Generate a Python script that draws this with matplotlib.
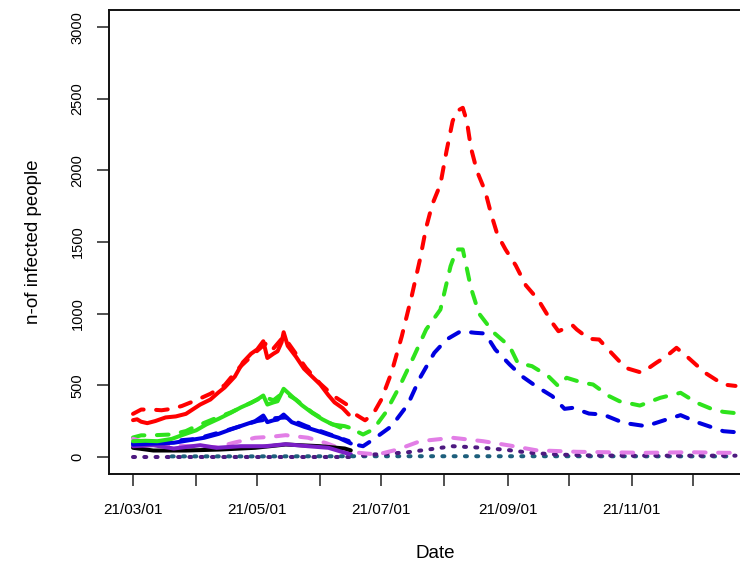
import numpy as np
import matplotlib
matplotlib.use("Agg")
import matplotlib.pyplot as plt
import matplotlib.dates as mdates

plt.rcParams['font.family'] = ['Liberation Sans', 'DejaVu Sans']

# ---- data ----
# first period, solid lines
red_p1_dates = ['03-01', '03-03', '03-05', '03-08', '03-12', '03-17', '03-22', '03-27', '04-03', '04-08',
                '04-12', '04-15', '04-20', '04-24', '04-28', '05-01', '05-04', '05-06', '05-09', '05-11',
                '05-13', '05-14', '05-16', '05-20', '05-24', '05-28', '06-01', '06-05', '06-08', '06-12', '06-15']
red_p1 = [256, 262, 245, 235, 250, 275, 282, 300, 365, 400,
          450, 484, 560, 660, 720, 750, 807, 690, 720, 737,
          800, 870, 775, 700, 615, 560, 505, 430, 380, 340, 295]

green_p1_dates = ['03-01', '03-07', '03-13', '03-20', '03-26', '04-01', '04-06', '04-12', '04-18', '04-23',
                  '04-28', '05-01', '05-04', '05-06', '05-09', '05-11', '05-14', '05-18', '05-23', '05-28',
                  '06-02', '06-07', '06-13', '06-15']
green_p1 = [109, 112, 109, 125, 156, 185, 226, 265, 307, 345,
            377, 400, 428, 365, 380, 388, 475, 423, 360, 307,
            262, 226, 214, 205]

blue_p1_dates = ['03-01', '03-10', '03-21', '04-05', '04-12', '04-18', '04-25', '04-30', '05-04', '05-06',
                 '05-09', '05-11', '05-14', '05-18', '05-24', '05-31', '06-05', '06-10', '06-16']
blue_p1 = [86, 92, 98, 133, 160, 191, 225, 249, 288, 242,
           255, 260, 295, 242, 210, 179, 155, 133, 93]

purple_p1_dates = ['03-01', '03-11', '03-21', '04-03', '04-11', '04-23', '05-05', '05-15', '05-26', '06-05', '06-16']
purple_p1 = [74, 81, 58, 81, 63, 74, 74, 88, 74, 63, 16]

black_p1_dates = ['03-01', '03-11', '03-27', '04-13', '04-30', '05-15', '06-01', '06-13', '06-16']
black_p1 = [63, 44, 44, 51, 63, 86, 74, 58, 45]

# first period, dashed lines
red_d1_dates = ['03-01', '03-05', '03-10', '03-15', '03-20', '03-25', '04-01', '04-08', '04-15', '04-22',
                '05-01', '05-05', '05-08', '05-14', '05-18', '05-25', '06-01', '06-08', '06-14']
red_d1 = [300, 330, 330, 325, 335, 355, 395, 440, 500, 620,
          740, 790, 740, 840, 760, 620, 510, 420, 365]

green_d1_dates = ['03-01', '03-05', '03-10', '03-20', '03-27', '04-01', '04-11', '04-18', '04-28', '05-04',
                  '05-09', '05-14', '05-20', '05-28', '06-05', '06-15']
green_d1 = [135, 150, 150, 156, 180, 214, 272, 310, 378, 420,
            395, 450, 400, 310, 240, 179]

blue_d1_dates = ['03-01', '03-10', '03-20', '04-01', '04-15', '05-01', '05-10', '05-15', '05-25', '06-05', '06-15']
blue_d1 = [95, 100, 110, 125, 180, 250, 270, 275, 215, 160, 110]

violet_d1_dates = ['03-01', '03-07', '03-13', '03-21', '03-29', '04-05', '04-11', '04-20', '04-30', '05-08',
                   '05-15', '05-26', '06-04', '06-10', '06-16']
violet_d1 = [126, 100, 86, 78, 74, 70, 67, 100, 133, 140, 151, 133, 95, 63, 21]

indigo_d1_dates = ['03-01', '04-15', '06-16']
indigo_d1 = [0, 0, 0]

# second period, dashed lines
red_p2_dates = ['06-19', '06-23', '06-27', '07-01', '07-06', '07-11', '07-16', '07-20', '07-23', '07-26',
                '07-30', '08-02', '08-05', '08-07', '08-10', '08-12', '08-14', '08-17', '08-21', '08-24',
                '08-27', '08-31', '09-05', '09-10', '09-16', '09-23', '09-26', '09-30', '10-03', '10-05',
                '10-11', '10-16', '10-22', '10-29', '11-06', '11-13', '11-18', '11-23', '11-28', '12-07',
                '12-16', '12-22']
red_p2 = [290, 255, 300, 400, 589, 840, 1128, 1380, 1600, 1762,
          1902, 2134, 2343, 2413, 2437, 2344, 2158, 1994, 1855, 1692,
          1552, 1448, 1337, 1197, 1098, 935, 877, 901, 917, 889,
          824, 819, 726, 621, 587, 656, 702, 761, 702, 587,
          505, 495]

green_p2_dates = ['06-20', '06-22', '06-27', '07-03', '07-10', '07-17', '07-23', '07-30', '08-04', '08-07',
                  '08-10', '08-14', '08-18', '08-25', '08-31', '09-02', '09-06', '09-13', '09-21', '09-26',
                  '09-30', '10-08', '10-13', '10-21', '10-26', '11-05', '11-15', '11-25', '12-03', '12-11',
                  '12-16', '12-22']
green_p2 = [170, 156, 191, 307, 493, 702, 889, 1028, 1331, 1448,
            1448, 1180, 1000, 870, 796, 772, 656, 633, 563, 493,
            552, 517, 505, 423, 388, 358, 412, 447, 377, 330,
            314, 305]

blue_p2_dates = ['06-20', '06-22', '06-27', '07-06', '07-14', '07-20', '07-27', '08-02', '08-09', '08-16',
                 '08-21', '08-26', '09-02', '09-08', '09-15', '09-23', '09-29', '10-03', '10-11', '10-18',
                 '10-28', '11-08', '11-18', '11-25', '12-04', '12-16', '12-22']
blue_p2 = [80, 74, 121, 214, 365, 552, 726, 819, 877, 866,
           861, 749, 645, 563, 493, 423, 335, 342, 302, 295,
           237, 214, 260, 291, 237, 179, 172]

violet_p2_dates = ['06-20', '06-29', '07-09', '07-20', '08-05', '08-20', '09-02', '09-15', '10-05', '11-07',
                   '11-30', '12-16', '12-22']
violet_p2 = [28, 16, 51, 109, 133, 109, 79, 46, 35, 28, 32, 28, 28]

# dotted lines
indigo_p2_dates = ['06-22', '06-27', '07-05', '07-14', '07-24', '08-05', '08-20', '09-02', '09-12', '09-25',
                   '10-10', '11-01', '12-01', '12-22']
indigo_p2 = [10, 16, 22, 32, 51, 74, 63, 46, 28, 16, 10, 8, 8, 8]

teal_dates = ['03-20', '05-01', '06-16', '08-01', '10-01', '12-22']
teal = [3, 3, 4, 4, 4, 3]

tick_months = ['03', '04', '05', '06', '07', '08', '09', '10', '11', '12']
tick_labels = ['21/03/01', '', '21/05/01', '', '21/07/01', '', '21/09/01', '', '21/11/01', '']


def d(md):
    return np.array(['2021-' + s for s in md], dtype='datetime64[D]')


fig = plt.figure(figsize=(7.4, 5.64), dpi=100)
# axes box runs past the right edge of the picture, like the cropped original
ax = fig.add_axes([109 / 740, 90 / 564, 653 / 740, 464 / 564])

lw = 2.9
dash = (2.9, 3.1)
dot = (0.5, 2.3)


def solid(x, y, c):
    ax.plot(d(x), y, color=c, lw=lw, solid_capstyle='round', solid_joinstyle='round')


def dashed(x, y, c, pat=dash):
    ax.plot(d(x), y, color=c, lw=lw, dashes=pat, dash_capstyle='round', dash_joinstyle='round')


RED = '#ff0000'
GREEN = '#2ee31c'
BLUE = '#0000e0'
VIOLET = '#e27ee6'
PURPLE = '#7b1fc6'
INDIGO = '#4d1a80'
TEAL = '#1d5f7c'

# first period
dashed(red_d1_dates, red_d1, RED)
dashed(green_d1_dates, green_d1, GREEN)
dashed(blue_d1_dates, blue_d1, BLUE)
dashed(violet_d1_dates, violet_d1, VIOLET)
dashed(indigo_d1_dates, indigo_d1, INDIGO, dot)
solid(black_p1_dates, black_p1, 'black')
solid(purple_p1_dates, purple_p1, PURPLE)
solid(blue_p1_dates, blue_p1, BLUE)
solid(green_p1_dates, green_p1, GREEN)
solid(red_p1_dates, red_p1, RED)

# second period
dashed(teal_dates, teal, TEAL, dot)
dashed(indigo_p2_dates, indigo_p2, INDIGO, dot)
dashed(violet_p2_dates, violet_p2, VIOLET)
dashed(blue_p2_dates, blue_p2, BLUE)
dashed(green_p2_dates, green_p2, GREEN)
dashed(red_p2_dates, red_p2, RED)

mar1 = mdates.date2num(np.datetime64('2021-03-01'))
ax.set_xlim(mar1 - 11.8, mar1 + 309)
ax.set_ylim(-120, 3120)

ax.set_xticks(d([m + '-01' for m in tick_months]))
ax.set_xticklabels(tick_labels)
ax.set_yticks([0, 500, 1000, 1500, 2000, 2500, 3000])
ax.set_yticklabels(['0', '500', '1000', '1500', '2000', '2500', '3000'], rotation=90, va='center')

ax.tick_params(axis='both', length=8.6, width=1.1, color='#222222')
ax.tick_params(axis='x', pad=12, labelsize=11)
ax.tick_params(axis='y', pad=9, labelsize=10.5)
for s in ax.spines.values():
    s.set_linewidth(1.4)
    s.set_color('#111111')

fig.text(34 / 740, 1 - 242 / 564, 'n-of infected people', rotation=90, ha='center', va='center', fontsize=13.5)
fig.text(435 / 740, 1 - 553 / 564, 'Date', ha='center', va='center', fontsize=13.5)

fig.savefig('out.png', dpi=100)
